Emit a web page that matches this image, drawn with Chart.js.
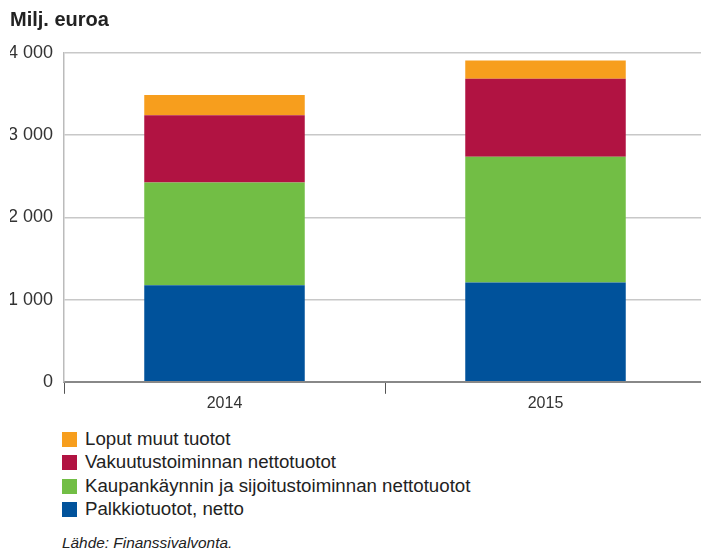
<!DOCTYPE html>
<html>
<head>
<meta charset="utf-8">
<script src="https://cdn.jsdelivr.net/npm/chart.js@4"></script>
<style>
    body { margin: 0; width: 701px; height: 552px; overflow: hidden; background: #fff; font-family: "Liberation Sans", Arial, sans-serif; position: relative; }
    #wrap { position: absolute; left: 0; top: 0; width: 706px; height: 415px; }
    #legend { position: absolute; left: 62px; top: 427px; color: #222; font-size: 18.7px; }
    .item { height: 23.4px; line-height: 23.4px; white-space: nowrap; }
    .box { display: inline-block; width: 15px; height: 15px; margin-right: 8px; vertical-align: -2px; }
    #source { position: absolute; left: 62px; top: 534px; font-size: 15.4px; font-style: italic; color: #222; }
</style>
</head>
<body>
<div id="wrap"><canvas id="chart"></canvas></div>
<div id="legend"></div>
<div id="source">Lähde: Finanssivalvonta.</div>
<script>
const years = ['2014', '2015'];
const palkkiot = [1175, 1208];
const kaupankaynti = [1249, 1530];
const vakuutus = [820, 950];
const muut = [244, 220];

const colors = {
    blue: 'rgb(0, 82, 155)',
    green: 'rgb(114, 190, 69)',
    red: 'rgb(177, 19, 66)',
    orange: 'rgb(247, 158, 29)'
};

const chart = new Chart(document.getElementById('chart'), {
    type: 'bar',
    data: {
        labels: years,
        datasets: [
            { label: 'Palkkiotuotot, netto', data: palkkiot, backgroundColor: colors.blue },
            { label: 'Kaupankäynnin ja sijoitustoiminnan nettotuotot', data: kaupankaynti, backgroundColor: colors.green },
            { label: 'Vakuutustoiminnan nettotuotot', data: vakuutus, backgroundColor: colors.red },
            { label: 'Loput muut tuotot', data: muut, backgroundColor: colors.orange }
        ]
    },
    options: {
        responsive: true,
        maintainAspectRatio: false,
        animation: false,
        categoryPercentage: 1,
        barPercentage: 0.5,
        layout: { padding: { left: 10, right: 0, top: 0, bottom: 2 } },
        plugins: {
            legend: { display: false },
            tooltip: { enabled: false },
            title: {
                display: true,
                text: 'Milj. euroa',
                align: 'start',
                color: '#222',
                font: { family: 'Liberation Sans', size: 20, weight: 'bold' },
                padding: { top: 8, bottom: 21 }
            }
        },
        scales: {
            x: {
                stacked: true,
                border: { color: '#888', width: 2 },
                grid: { offset: true, drawOnChartArea: false, color: '#555', lineWidth: 1, tickLength: 12 },
                ticks: { color: '#333', padding: 0, font: { family: 'Liberation Sans', size: 16 } }
            },
            y: {
                stacked: true,
                min: 0,
                max: 4000,
                border: { color: '#bbb', width: 1.5 },
                grid: { color: '#c8c8c8', lineWidth: 1.5, drawTicks: false },
                ticks: {
                    stepSize: 1000,
                    padding: 11,
                    color: '#333',
                    font: { family: 'Liberation Sans', size: 18 },
                    callback: v => v >= 1000 ? Math.floor(v / 1000) + ' 000' : String(v)
                },
                afterFit: scale => { scale.width = 54; }
            }
        }
    }
});

const legend = document.getElementById('legend');
chart.data.datasets.slice().reverse().forEach(ds => {
    const row = document.createElement('div');
    row.className = 'item';
    const box = document.createElement('span');
    box.className = 'box';
    box.style.background = ds.backgroundColor;
    row.appendChild(box);
    row.appendChild(document.createTextNode(ds.label));
    legend.appendChild(row);
});
</script>
</body>
</html>
